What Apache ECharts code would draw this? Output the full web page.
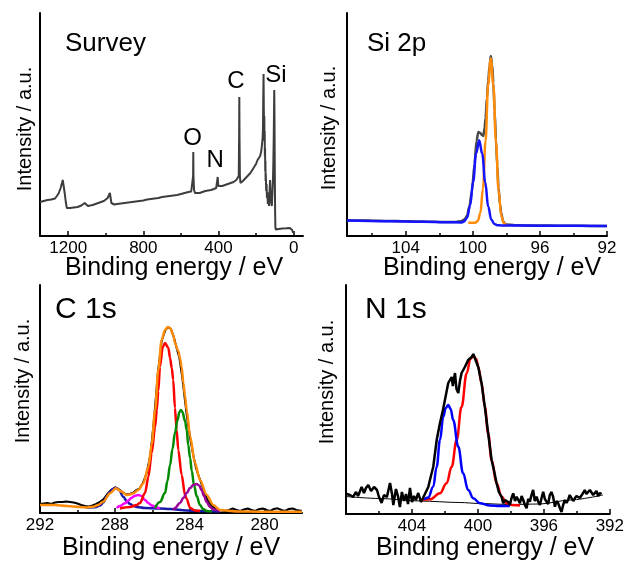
<!DOCTYPE html>
<html><head><meta charset="utf-8">
<script src="https://cdn.jsdelivr.net/npm/echarts@6/dist/echarts.min.js"></script>
<style>html,body{margin:0;padding:0;background:#fff}#c{width:627px;height:567px}</style>
</head><body><div id="c"></div>
<script>
// ---------------- DATA (binding energy eV, intensity a.u.) ----------------
const surveyTicks = [1200, 800, 400, 0];
const surveyMinor = [1000, 600, 200];
const siTicks = [104, 100, 96, 92];
const siMinor = [106, 102, 98, 94];
const cTicks = [292, 288, 284, 280];
const cMinor = [290, 286, 282];
const nTicks = [404, 400, 396, 392];
const nMinor = [406, 402, 398, 394];

const survey = [[1350,34],[1340,36],[1330,35],[1320,37],[1310,36],[1300,37],[1290,36.5],[1280,38],[1270,37.5],[1260,40],[1250,43],[1240,48],[1233,53],[1229,56],[1224,50],[1218,42],[1212,33],[1207,28],[1200,28.5],[1190,28],[1180,29],[1170,28.5],[1160,29.5],[1150,29],[1140,30],[1130,30.5],[1120,31],[1112,33],[1105,31],[1095,30],[1085,30.5],[1070,31],[1055,32],[1040,33],[1025,34],[1010,35],[1000,36],[990,38],[983,40],[978,43],[974,38],[970,33],[965,31],[955,31.5],[940,32],[920,32.5],[900,33],[880,33.5],[860,34],[840,34.5],[820,35],[800,35.5],[780,36.5],[760,37],[740,37.5],[720,38],[700,39],[680,39.5],[660,40],[640,40.5],[620,41],[600,42],[580,43],[560,44],[545,44.5],[538,45],[535,60],[534,84],[533,60],[530,46],[525,43],[515,42.5],[500,43],[485,44],[470,45],[455,45.5],[440,46],[425,47],[412,48],[407,50],[404,59],[401,50],[395,49],[380,50],[365,51],[350,52],[335,53],[320,54],[305,56],[296,57],[292,60],[290,100],[289,139],[288,100],[286,60],[283,53],[278,54],[270,55],[260,57],[250,59],[240,61],[230,63],[220,66],[210,69],[200,72],[192,76],[185,78],[178,80],[172,85],[168,92],[165,98],[163,108],[162,130],[160,162],[158.5,125],[157,110],[156,120],[155,95],[154,105],[153,80],[152,88],[151,65],[150,75],[149,55],[148,62],[146,45],[144,52],[142,38],[140,44],[137,32],[134,40],[131,30],[128,45],[125,56],[122,40],[119,33],[116,30],[113,42],[110,55],[108,72],[106,96],[104.5,120],[103,146],[101.5,110],[100,60],[98.5,25],[97,9],[95,6.5],[90,6.5],[80,7],[70,7],[60,7.5],[50,7.5],[40,7.7],[30,8],[20,8],[12,7.5],[8,6],[5,4.5],[2,3],[0,2.5]];
const surveyMarks = [[538,97.5,'O'],[418,76,'N'],[307,155,'C'],[94,161,'Si']];

const siData = [[107.5,15.8],[107,15.6],[106.5,15.5],[106,15.3],[105.5,15.2],[105,15.0],[104.5,14.9],[104,14.7],[103.5,14.6],[103,14.4],[102.5,14.3],[102,14.1],[101.5,14.0],[101,14.1],[100.7,14.8],[100.5,16.5],[100.35,20],[100.2,30],[100.05,45],[99.9,72],[99.78,95],[99.67,104],[99.55,103],[99.45,101],[99.37,100],[99.3,108],[99.24,118],[99.16,138],[99.085,155],[99.0,170],[98.93,180],[98.85,172],[98.775,153],[98.7,125],[98.62,96],[98.54,70],[98.465,48],[98.38,32],[98.31,23],[98.2,15],[98.1,12.5],[98.0,11.5],[97.5,10.8],[97,10.6],[96,10.5],[95,10.3],[94,10.2],[93,10.1],[92,10.1]];
const siOrange = [[100.27,13.2],[99.86,13.3],[99.705,15.0],[99.55,23.0],[99.395,47.3],[99.24,95.1],[99.085,151.4],[98.93,177.6],[98.775,151.0],[98.62,94.1],[98.465,45.8],[98.31,21.1],[98.155,12.8],[98.0,10.8],[97.9,10.5]];
const siBlue = [[107.5,15.5],[105,14.8],[103,14.2],[101.5,13.8],[100.7,13.6],[100.52,14.4],[100.34,18.4],[100.16,30.5],[99.98,54.5],[99.8,82.7],[99.62,95.7],[99.44,82.3],[99.26,53.7],[99.08,29.2],[98.9,16.6],[98.72,12.1],[98.54,10.8],[98.3,10.6],[97,10.4],[95,10.2],[92,10]];

const cData = [[292.0,9],[291.8,9.5],[291.6,10],[291.4,9],[291.2,10.5],[291.0,11],[290.9,12],[290.8,11],[290.7,12.5],[290.6,11.5],[290.5,12.3],[290.4,11],[290.3,10],[290.2,10.5],[290.0,9.5],[289.8,8],[289.6,7],[289.4,6.5],[289.2,7.5],[289.0,9],[288.8,11],[288.6,14],[288.4,19],[288.2,23],[288.0,25.5],[287.8,24],[287.6,21],[287.4,18.5],[287.2,19],[287.0,20.5],[286.85,23],[286.7,24],[286.5,30],[286.3,40],[286.1,58],[285.9,95],[285.7,140],[285.5,172],[285.3,183],[285.15,186],[285.0,184],[284.85,176],[284.7,165],[284.55,155],[284.4,136],[284.25,112],[284.1,90],[283.95,72],[283.8,57],[283.65,44],[283.5,36],[283.35,28],[283.2,20],[283.05,13],[282.9,9],[282.75,6],[282.6,4],[282.45,3],[282.3,2.5],[282.1,2],[281.9,3],[281.7,4.5],[281.5,3],[281.3,2],[281.1,3.5],[280.9,4.5],[280.7,3],[280.5,2],[280.3,3.8],[280.1,4.5],[279.9,3],[279.7,2],[279.5,4],[279.3,4.7],[279.1,3],[278.9,2],[278.7,4],[278.5,4.5],[278.3,3],[278.0,2]];
const cEnvelope = [[292.0,8],[291.2,8],[290.57,7],[289.86,6],[289.5,5.5],[289.15,6.3],[288.9,8],[288.62,11.3],[288.26,19.7],[287.94,24.7],[287.63,21.3],[287.37,18],[287.19,18.5],[287.01,19.7],[286.75,23],[286.48,29.7],[286.21,46],[286.03,69],[285.85,103],[285.68,143],[285.5,173],[285.32,183],[285.18,186],[285.05,185],[284.88,178],[284.79,170],[284.61,162],[284.52,155],[284.43,146],[284.34,130],[284.25,117],[284.16,103],[283.98,77],[283.72,50],[283.45,33],[283.09,18],[282.74,8],[282.38,3],[281.49,1.5],[280.24,1.3],[278.0,1.2]];
const cRed = [[287.73,4.5],[287.19,6],[286.83,8],[286.66,10],[286.39,20],[286.21,36],[286.03,60],[285.85,86],[285.76,103],[285.68,122],[285.59,146],[285.44,166],[285.32,170],[285.14,165],[285.05,155],[284.96,145],[284.88,133],[284.79,105],[284.7,83],[284.61,63],[284.43,38],[284.25,18],[284.16,14],[283.98,5],[283.72,2.5],[283.45,2]];
const cGreen = [[285.85,5],[285.59,11],[285.32,20],[285.19,32],[285.05,48],[284.92,64],[284.79,80],[284.65,93],[284.55,101],[284.47,103],[284.39,101],[284.25,92],[284.16,83],[284.08,68],[283.98,55],[283.89,42],[283.77,28],[283.63,17],[283.45,8],[283.29,4],[283.08,2],[282.81,1.5]];
const cPurple = [[284.88,3],[284.79,5],[284.52,10],[284.34,15],[284.16,20],[283.98,25],[283.81,28],[283.63,29],[283.5,27.5],[283.36,23],[283.24,17],[283.09,11],[282.92,6],[282.74,3.7],[282.38,2]];
const cMagenta = [[287.9,5],[287.73,7],[287.46,9.7],[287.28,12.5],[287.1,15.3],[286.92,17.3],[286.75,18],[286.57,17],[286.39,13],[286.21,10],[286.03,7.5],[285.76,5.5],[285.59,4.5]];
const cBlue = [[289.5,5.5],[289.06,5.8],[288.79,7.5],[288.62,10.5],[288.44,16.3],[288.26,21],[288.1,24],[287.94,25.3],[287.78,23],[287.55,16.3],[287.37,12],[287.19,9],[287.01,7],[286.83,6],[286.39,5],[285.59,4.5],[285.05,4],[284.16,2.5],[283.45,2],[282.38,1.5]];

const nData = [[407.96,20],[407.76,19],[407.58,17],[407.39,22],[407.27,18],[407.05,27],[406.91,21],[406.79,26],[406.65,29],[406.48,23],[406.3,27],[406.12,24],[406.0,17],[405.84,11],[405.7,19],[405.52,17],[405.33,31],[405.21,20],[405.13,9],[404.97,25],[404.85,18],[404.73,7],[404.61,22],[404.48,13],[404.36,20],[404.24,10],[404.12,26],[404.0,12],[403.88,18],[403.76,14],[403.62,21],[403.45,12],[403.33,16],[403.21,17],[403.01,27],[402.85,38],[402.71,47],[402.5,74],[402.3,91],[402.12,104],[402.0,114],[401.8,131],[401.59,137],[401.52,128],[401.39,141],[401.3,125],[401.19,121],[401.09,133],[400.99,141],[400.79,147],[400.59,154],[400.38,157],[400.28,160],[400.18,159],[399.98,147],[399.78,131],[399.58,107],[399.38,81],[399.17,54],[399.03,44],[398.87,31],[398.73,22],[398.56,17],[398.47,10.7],[398.36,14],[398.26,15.7],[398.16,12],[398.06,9],[397.96,16],[397.86,20.7],[397.75,13],[397.65,17.3],[397.55,14],[397.45,10.7],[397.35,18],[397.25,14],[397.15,9],[397.05,5.7],[396.95,15],[396.85,12.3],[396.75,19],[396.65,24],[396.55,13],[396.44,17.3],[396.34,12],[396.24,9],[396.14,16],[396.04,22.3],[395.94,15],[395.84,12.3],[395.74,10],[395.64,19],[395.54,22],[395.44,17.3],[395.33,7.3],[395.23,13],[395.13,10.7],[395.03,6],[394.93,2],[394.83,9],[394.73,14],[394.63,11],[394.53,14],[394.43,19],[394.32,17.3],[394.22,13],[394.12,15.7],[394.02,18],[393.92,20],[393.82,16],[393.72,17.3],[393.62,21],[393.52,24],[393.42,20],[393.32,19],[393.21,24],[393.11,22.3],[393.01,19],[392.91,20.7],[392.81,23],[392.71,18],[392.6,21],[392.5,20]];
const nRed = [[403.52,13.5],[402.91,14.7],[402.3,20.7],[401.9,30.7],[401.59,47.3],[401.29,74],[400.99,107.3],[400.68,140.7],[400.45,155],[400.28,158],[400.1,155],[399.98,147.3],[399.78,130.7],[399.58,107.3],[399.38,80.7],[399.17,54],[398.87,30.7],[398.56,17.3],[398.26,10.7],[397.94,9],[397.45,8.5]];
const nBlue = [[403.27,14.5],[403.01,16.5],[402.71,27.3],[402.5,47.3],[402.3,74],[402.1,97.3],[401.95,106],[401.8,109],[401.65,105],[401.5,94],[401.19,67.3],[400.9,40.7],[400.59,24],[400.28,15.7],[399.88,10.7],[399.27,8.5],[398.67,8],[398.06,8]];
const nBaseline = [[408,17.5],[405.94,15.5],[403.52,13],[401.09,11.5],[399.88,10.5],[398.06,9.5],[396.24,10],[394.42,14],[392.42,19]];

// ---------------- LAYOUT ----------------
const FONT = '"Liberation Sans", Arial, sans-serif';
const grids = [
  {left: 40, top: 13, width: 263, height: 223},
  {left: 347, top: 13, width: 260, height: 223},
  {left: 40, top: 285, width: 262, height: 228},
  {left: 346, top: 285, width: 264, height: 229}
];
const ranges = [[-50, 1350], [92, 107.5], [278, 292], [392, 408]];
const majors = [surveyTicks, siTicks, cTicks, nTicks];
const minors = [surveyMinor, siMinor, cMinor, nMinor];
const ymax = [223, 223, 228, 229];

const xAxes = [], yAxes = [];
grids.forEach((g, i) => {
  xAxes.push({
    gridIndex: i, type: 'value', min: ranges[i][0], max: ranges[i][1], inverse: true, position: 'bottom',
    axisLine: {show: true, onZero: false, lineStyle: {color: '#000', width: 2}},
    axisTick: {show: true, inside: true, length: 5, customValues: majors[i], lineStyle: {color: '#000', width: 1.5}},
    axisLabel: {show: true, customValues: majors[i], formatter: v => String(v), color: '#000', fontSize: 17, fontFamily: FONT, margin: 4},
    splitLine: {show: false}
  });
});
grids.forEach((g, i) => {
  xAxes.push({
    gridIndex: i, type: 'value', min: ranges[i][0], max: ranges[i][1], inverse: true, position: 'bottom',
    axisLine: {show: false, onZero: false},
    axisTick: {show: true, inside: true, length: 3, customValues: minors[i], lineStyle: {color: '#000', width: 1.5}},
    axisLabel: {show: false},
    splitLine: {show: false}
  });
  yAxes.push({
    gridIndex: i, type: 'value', min: 0, max: ymax[i],
    axisLine: {show: true, onZero: false, lineStyle: {color: '#000', width: 2}},
    axisTick: {show: false}, axisLabel: {show: false}, splitLine: {show: false}
  });
});

function line(data, idx, color, width, smooth, z) {
  return {
    type: 'line', xAxisIndex: idx, yAxisIndex: idx, data: data, showSymbol: false, symbol: 'none',
    smooth: smooth, smoothMonotone: 'x', clip: true, z: z,
    lineStyle: {color: color, width: width}, emphasis: {disabled: true}, silent: true
  };
}

const series = [
  line(survey, 0, '#3d3d3d', 2, false, 2),
  {
    type: 'scatter', xAxisIndex: 0, yAxisIndex: 0, symbolSize: 0.01, silent: true, z: 5,
    itemStyle: {color: '#fff', opacity: 1},
    data: surveyMarks.map(m => ({value: [m[0], m[1]], name: m[2]})),
    label: {show: true, position: 'inside', formatter: '{b}', color: '#000', opacity: 1, textBorderWidth: 0, fontSize: 24, fontFamily: FONT}
  },
  line(siData, 1, '#4a4a4a', 2.5, 0.3, 2),
  line(siOrange, 1, '#FF8C0A', 2.5, 0.4, 3),
  line(siBlue, 1, '#1414FF', 2.5, 0.4, 4),
  line(cData, 2, '#000', 2, false, 2),
  line(cBlue, 2, '#1a1aa8', 2.5, 0.4, 3),
  line(cMagenta, 2, '#FF00FF', 2.5, 0.4, 3),
  line(cRed, 2, '#FF0000', 2.5, 0.3, 3),
  line(cGreen, 2, '#008A00', 2.5, 0.4, 3),
  line(cPurple, 2, '#9A009A', 2.5, 0.4, 3),
  line(cEnvelope, 2, '#FF8C0A', 2.5, 0.3, 4),
  line(nBaseline, 3, '#000', 1, 0.3, 2),
  line(nRed, 3, '#FF0000', 2.5, 0.4, 3),
  line(nBlue, 3, '#0000FF', 2.5, 0.4, 3),
  line(nData, 3, '#000', 2.5, false, 4)
];

function txt(text, x, y, size, align, rot) {
  return {
    type: 'text', x: x, y: y, rotation: rot || 0, silent: true, z: 10,
    style: {text: text, fontSize: size, fontFamily: FONT, fill: '#000', textAlign: align, textVerticalAlign: 'middle'}
  };
}
const graphics = [
  txt('Survey', 65, 44, 26, 'left'),
  txt('Si 2p', 367, 44, 26, 'left'),
  txt('C 1s', 55, 310, 30, 'left'),
  txt('N 1s', 365, 310, 30, 'left'),
  txt('Binding energy / eV', 174, 268, 25, 'center'),
  txt('Binding energy / eV', 492, 268, 25, 'center'),
  txt('Binding energy / eV', 171, 548, 25, 'center'),
  txt('Binding energy / eV', 485, 548, 25, 'center'),
  txt('Intensity / a.u.', 25, 129, 20, 'center', Math.PI / 2),
  txt('Intensity / a.u.', 329, 128, 20, 'center', Math.PI / 2),
  txt('Intensity / a.u.', 23, 381, 20, 'center', Math.PI / 2),
  txt('Intensity / a.u.', 327, 382, 20, 'center', Math.PI / 2)
];

const chart = echarts.init(document.getElementById('c'), null, {renderer: 'canvas'});
chart.setOption({
  animation: false,
  backgroundColor: '#fff',
  grid: grids.map(g => Object.assign({containLabel: false}, g)),
  xAxis: xAxes,
  yAxis: yAxes,
  series: series,
  graphic: graphics
});
</script></body></html>
